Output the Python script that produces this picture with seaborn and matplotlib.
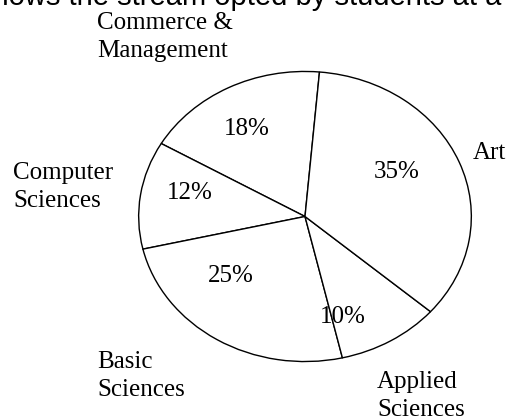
import matplotlib
matplotlib.use("Agg")
import matplotlib.pyplot as plt
import seaborn as sns

sns.set_theme(style="white")
plt.rcParams["font.family"] = ["Liberation Serif", "DejaVu Serif"]

# data, counter-clockwise from the top
streams = ["Commerce &\nManagement", "Computer\nSciences", "Basic\nSciences",
           "Applied\nSciences", "Art"]
shares = [18, 12, 25, 10, 35]

# layout in pixels from the top-left corner
name_pos = [(97, 12), (13, 162), (97, 351), (377, 371), (473, 142)]
pct_pos = [(246, 128), (189, 193), (230, 277), (343, 318), (398, 172)]

W, H = 509, 419
fig = plt.figure(figsize=(W / 100, H / 100), dpi=100)

# elliptical pie: axes spans the ellipse bounding box, aspect left free
left, right, top, bottom = 137, 473, 70, 363
cx, cy = (left + right) / 2, (top + bottom) / 2
rx, ry = (right - left) / 2, (bottom - top) / 2
ax = fig.add_axes([left / W, 1 - bottom / H, (right - left) / W, (bottom - top) / H])
wedges, texts, pcts = ax.pie(
    shares, startangle=85, counterclock=True, radius=1,
    colors=["white"] * len(shares),
    wedgeprops={"edgecolor": "black", "linewidth": 1.0},
    autopct="%d%%", pctdistance=0.67,
    textprops={"fontsize": 18, "color": "black"},
)
for t, (px, py) in zip(pcts, pct_pos):
    t.set_position(((px - cx) / rx, (cy - py) / ry))
ax.set_aspect("auto")
ax.set_xlim(-1.01, 1.01)
ax.set_ylim(-1.01, 1.01)
ax.axis("off")

for name, (x, y) in zip(streams, name_pos):
    fig.text(x / W, 1 - y / H, name, ha="left", va="top",
             fontsize=18, linespacing=1.37, color="black")

# clipped caption at the very top
fig.text(-22 / W, 1 - 5 / H, "shows the stream opted by students at a",
         ha="left", va="baseline", fontsize=21,
         family=["Liberation Sans", "DejaVu Sans"], color="black")

fig.savefig("out.png", dpi=100)
